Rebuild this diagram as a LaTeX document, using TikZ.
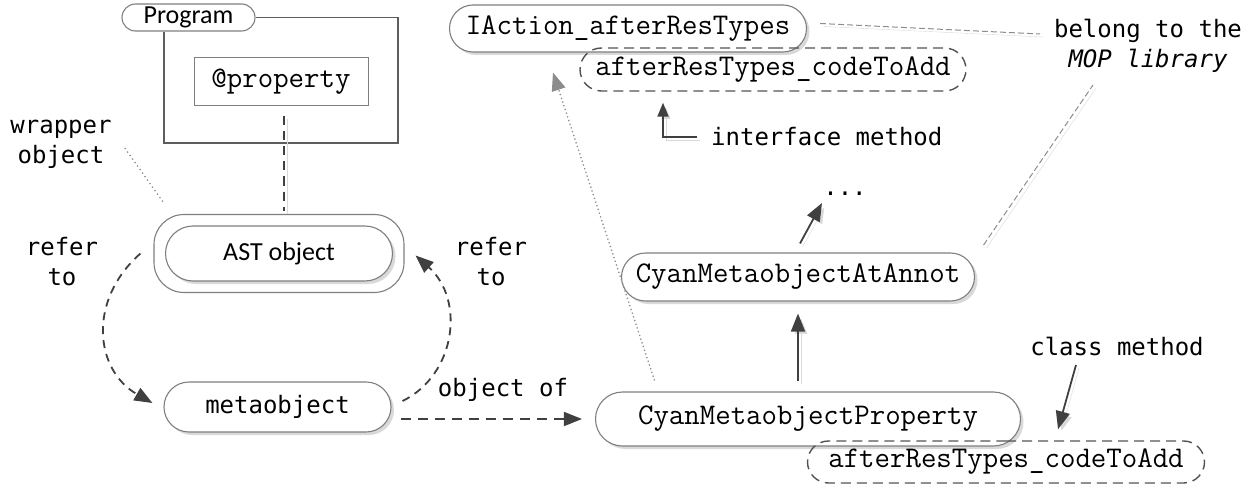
\documentclass[tikz,border=0pt]{standalone}
\usepackage{fontspec}
\usetikzlibrary{arrows.meta,shapes.misc,shadows,calc}
\newfontfamily\cons{DejaVu Sans Mono}
\newfontfamily\cali{Carlito}
\definecolor{ln}{HTML}{404040}
\definecolor{bd}{HTML}{7F7F7F}
\definecolor{sh}{HTML}{D9D9D9}
\definecolor{lg}{HTML}{8C8C8C}
\begin{document}
\begin{tikzpicture}[x=1pt,y=-1pt,
  pill/.style={rounded rectangle, draw=bd, line width=1.1pt, fill=white, inner sep=0pt},
  shpill/.style={pill, general shadow={fill=sh, shadow xshift=3pt, shadow yshift=-3pt}},
  dpill/.style={rounded rectangle, draw=ln!90, line width=1.4pt, dash pattern=on 10pt off 6pt, inner sep=0pt},
  code/.style={font=\ttfamily\fontsize{30}{34}\selectfont},
  lab/.style={font=\cons\fontsize{24}{30}\selectfont, align=center, inner sep=0pt},
  cal/.style={font=\cali\fontsize{26}{30}\selectfont},
  conn/.style={draw=ln, line width=1.8pt},
  arr/.style={-{Triangle[length=18pt,width=14pt]}},
  sarr/.style={-{Triangle[length=14pt,width=11pt]}},
  shd/.style={preaction={draw=sh, transform canvas={shift={(3pt,-3pt)}}}},
  dsh/.style={dash pattern=on 8pt off 6pt},
]
\useasboundingbox (0,0) rectangle (1256,484);

% Program frame
\node[pill, cal, minimum width=133pt, minimum height=27pt] (prog) at (188.5,17.5) {Program};
\draw[draw=ln!85, line width=1.5pt] (prog.east) -- (398,17.5) -- (398,143) -- (164,143) -- (164,0 |- prog.south);
\node[draw=bd, line width=1pt, minimum width=174pt, minimum height=48pt, code, inner sep=0pt] (prop) at (281,82) {@property};

% left part
\node[draw=bd, line width=1.1pt, rounded corners=30pt, minimum width=250pt, minimum height=78pt, fill=white] (astout) at (279,253.5) {};
\node[shpill, cal, minimum width=227pt, minimum height=55pt] (ast) at (279,253.5) {AST object};
\node[shpill, lab, minimum width=227pt, minimum height=50pt] (meta) at (277.5,407) {metaobject};

\node[lab] (wrap) at (61,144) {wrapper\\object};
\node[lab] (refl) at (62,262) {refer\\to};
\node[lab] (refr) at (491,262) {refer\\to};
\node[lab, anchor=base] (objof) at (503,396) {object of};

% right part
\node[shpill, code, minimum width=357pt, minimum height=47pt] (ia) at (628,28.5) {IAction\_afterResTypes};
\node[dpill, code, minimum width=386pt, minimum height=43pt] (cm1) at (773,69.5) {afterResTypes\_codeToAdd};
\node[lab, anchor=west] (ifm) at (711,137) {interface method};
\node[lab, anchor=base] (dots) at (845,196) {...};
\node[shpill, code, minimum width=353pt, minimum height=48pt] (ann) at (798,277) {CyanMetaobjectAtAnnot};
\node[shpill, code, minimum width=425pt, minimum height=54pt] (prp) at (808,419) {CyanMetaobjectProperty};
\node[dpill, code, minimum width=397pt, minimum height=42pt] (cm2) at (1006,462) {afterResTypes\_codeToAdd};
\node[lab, anchor=base] (clm) at (1117,355) {class method};
\node[lab] (mop) at (1148,46) {belong to the\\\itshape MOP library};
\coordinate (b1) at (1040,34);
\coordinate (b2) at (1093,85);

\draw[conn, line width=1.5pt, dash pattern=on 9pt off 6pt, shd] ($(prop.south)+(3,10)$) -- ($(astout.north)+(5,-3)$);
\draw[draw=lg, line width=1.3pt, dash pattern=on 1.3pt off 3pt] ($(wrap.east)+(13,4)$) -- ($(astout.north west)+(11,-10)$);

\draw[conn, dsh, arr] ($(astout.west)+(-13,0)$) .. controls ($(astout.west)+(-66,46.5)$) and ($(meta.west)+(-69,-37)$) .. ($(meta.west)+(-11,-4)$);
\draw[conn, dsh, arr] ($(meta.east)+(11,-6)$) .. controls ($(meta.east)+(64,-32)$) and ($(astout.east)+(61,46.5)$) .. ($(astout.east)+(11,2)$);
\draw[conn, dash pattern=on 10pt off 7pt, arr] ($(meta.east)+(9,12)$) -- ($(prp.west)+(-13,0)$);

\draw[conn, arr, shd] ($(prp.north)+(-10,-10)$) -- ($(ann.south)+(0,12)$);
\draw[conn, arr, shd] ($(ann.north)+(2,-9)$) -- ($(dots.base)+(-23,7)$);
\draw[draw=lg, line width=1.3pt, dash pattern=on 1.3pt off 2.6pt, -{Triangle[length=18pt,width=14pt]}] ($(prp.north west)+(32,-11)$) -- ($(ia.south)+(-75,20)$);
\draw[conn, sarr, shd] ($(ifm.west)+(-14,0)$) -| ($(cm1.south)+(-110,11)$);
\draw[conn, arr, shd] ($(clm.base)+(-41,10)$) -- ($(cm2.north)+(52,-11)$);
\draw[draw=lg, line width=1pt, dash pattern=on 6pt off 3pt, shd] ($(ia.east)+(13,-5)$) -- (b1);
\draw[draw=lg, line width=1pt, dash pattern=on 6pt off 3pt, shd] ($(ann.east)+(8.5,-32)$) -- (b2);
\end{tikzpicture}
\end{document}
